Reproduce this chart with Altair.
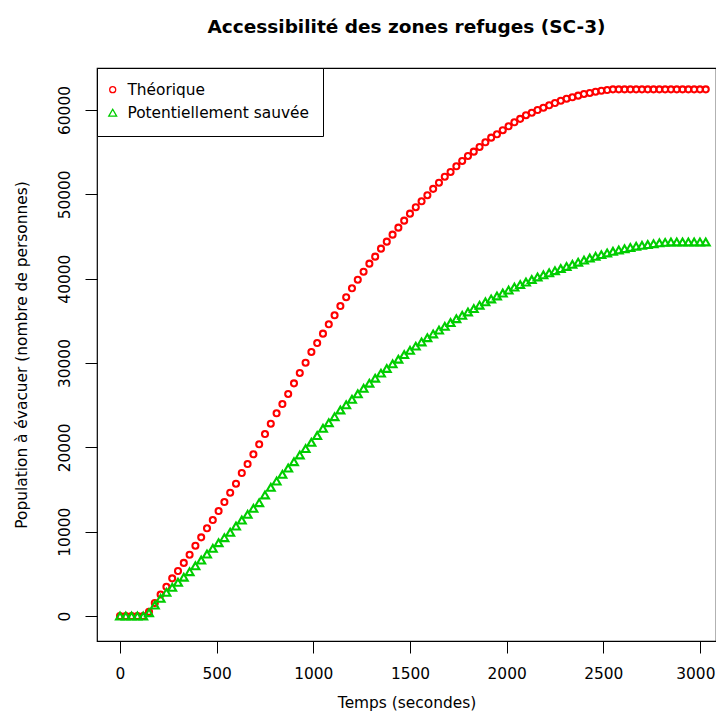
import altair as alt
import pandas as pd

temps = list(range(0, 3031, 30))

theorique = [
    0, 0, 0, 0, 0, 500, 1550, 2550, 3470, 4470,
    5340, 6300, 7270, 8340, 9330, 10400, 11380, 12450, 13520, 14620,
    15690, 16960, 18020, 19180, 20360, 21580, 22800, 24040, 25140, 26330,
    27590, 28820, 30040, 31310, 32370, 33480, 34590, 35660, 36760, 37800,
    38860, 39880, 40830, 41780, 42610, 43560, 44390, 45220, 46050, 46880,
    47710, 48470, 49180, 49900, 50650, 51380, 52090, 52650, 53330, 53960,
    54550, 55060, 55620, 56170, 56720, 57120, 57600, 58070, 58540, 58950,
    59380, 59680, 60000, 60270, 60560, 60830, 61100, 61340, 61510, 61700,
    61900, 62020, 62170, 62290, 62370, 62450, 62450, 62450, 62450, 62450,
    62450, 62450, 62450, 62450, 62450, 62450, 62450, 62450, 62450, 62450,
    62450, 62450,
]

sauvee = [
    0, 0, 0, 0, 0, 390, 1300, 2100, 2810, 3400,
    4000, 4600, 5250, 5960, 6640, 7350, 8030, 8690, 9290, 9930,
    10670, 11380, 12060, 12770, 13440, 14350, 15260, 16000, 16800, 17550,
    18300, 19100, 19850, 20600, 21400, 22260, 22920, 23630, 24430, 25050,
    25700, 26350, 27000, 27600, 28200, 28800, 29350, 29900, 30450, 31000,
    31500, 32000, 32500, 33000, 33450, 33900, 34350, 34800, 35250, 35650,
    36050, 36450, 36850, 37250, 37600, 37950, 38300, 38650, 39000, 39300,
    39600, 39900, 40200, 40450, 40700, 40950, 41200, 41450, 41700, 41950,
    42200, 42450, 42650, 42850, 43050, 43250, 43400, 43550, 43700, 43850,
    43950, 44050, 44150, 44250, 44300, 44350, 44350, 44350, 44350, 44350,
    44350, 44350,
]

series_names = ["Théorique", "Potentiellement sauvée"]
series_colors = ["#FF0000", "#00CD00"]
series_shapes = ["circle", "triangle-up"]

x_ticks = [0, 500, 1000, 1500, 2000, 2500, 3000]
y_ticks = [0, 10000, 20000, 30000, 40000, 50000, 60000]

df = pd.concat([
    pd.DataFrame({"t": temps, "pop": theorique, "serie": series_names[0]}),
    pd.DataFrame({"t": temps, "pop": sauvee, "serie": series_names[1]}),
])

FONT = "DejaVu Sans"
FS = 15.4

base = alt.Chart(df).encode(
    x=alt.X("t:Q", scale=alt.Scale(domain=[-119, 3083], nice=False, zero=False),
            axis=alt.Axis(values=x_ticks, title="Temps (secondes)", grid=False, domain=False,
                          tickColor="black", tickSize=12, labelPadding=13, labelFontSize=FS,
                          titleFontSize=FS, titlePadding=14, labelColor="black", titleColor="black",
                          labelFont=FONT, titleFont=FONT, titleFontWeight="normal", format="d",
                          labelFlush=20, labelFlushOffset=15)),
    y=alt.Y("pop:Q", scale=alt.Scale(domain=[-2960, 64980], nice=False, zero=False),
            axis=alt.Axis(values=y_ticks, title="Population à évacuer (nombre de personnes)",
                          grid=False, domain=False, tickColor="black", tickSize=12,
                          labelAngle=-90, labelAlign="center", labelBaseline="alphabetic",
                          labelPadding=16, labelFontSize=FS, titleFontSize=FS, titlePadding=28,
                          labelColor="black", titleColor="black", labelFont=FONT,
                          titleFont=FONT, titleFontWeight="normal", format="d")),
    color=alt.Color("serie:N", scale=alt.Scale(domain=series_names, range=series_colors),
                    legend=alt.Legend(title=None)),
    shape=alt.Shape("serie:N", scale=alt.Scale(domain=series_names, range=series_shapes),
                    legend=alt.Legend(title=None)),
    size=alt.Size("serie:N", scale=alt.Scale(domain=series_names, range=[36, 62]), legend=None),
)

chart = base.mark_point(filled=False, strokeWidth=2.1, opacity=1).properties(
    width=619,
    height=573,
    title=alt.TitleParams("Accessibilité des zones refuges (SC-3)", anchor="middle",
                          fontSize=18.5, fontWeight="bold", font=FONT, offset=31, color="black"),
    autosize=alt.AutoSizeParams(type="none"),
    padding={"left": 89, "top": 60, "right": 0, "bottom": 72},
).configure_view(
    stroke="black", strokeWidth=1.2
).configure_legend(
    orient="none", legendX=0, legendY=0, strokeColor="black", fillColor="white",
    padding=14, labelFontSize=FS, labelFont=FONT, labelColor="black", labelLimit=0,
    symbolStrokeWidth=1.3, symbolSize=45, rowPadding=6, cornerRadius=0,
    labelOffset=7, symbolOffset=-6, symbolFillColor="white"
)

chart.save("out.html", embed_options={"renderer": "svg", "actions": False})
